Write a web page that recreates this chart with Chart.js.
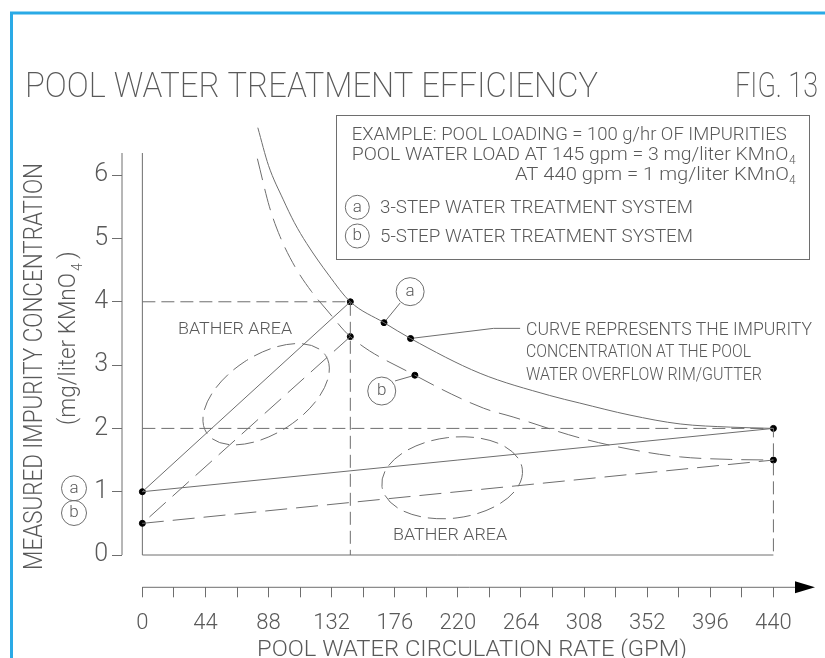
<!DOCTYPE html>
<html>
<head>
<meta http-equiv="Content-Type" content="text/html; charset=UTF-8" />
<title>Pool Water Treatment Efficiency</title>
<style>
html, body { margin: 0; padding: 0; background: #fff; }
#wrap { width: 825px; height: 658px; }
</style>
</head>
<body>
<div id="wrap"><canvas id="chart1" width="825" height="658"></canvas></div>
<script src="https://cdn.jsdelivr.net/npm/chart.js@4.4.1/dist/chart.umd.min.js"></script>
<script>
// x axis: circulation rate in gpm, minor tick every 22, label every 44
var xStep = 22;
var xLabels = [0, 44, 88, 132, 176, 220, 264, 308, 352, 396, 440];
var yStep = 1;

// curve for the 3-step system (a), solid
var curveAx = [80.5, 88, 98.3, 106, 114.6, 130, 145, 168.5, 187, 235.5, 284, 305, 340, 375, 410, 440];
var curveAy = [6.75, 6.15, 5.61, 5.25, 4.92, 4.42, 4.0, 3.67, 3.42, 2.87, 2.52, 2.40, 2.21, 2.07, 2.02, 2.0];

// curve for the 5-step system (b), dashed
var curveBx = [80.2, 88.6, 96, 106.5, 118, 128.6, 145, 190, 237.8, 258.5, 305, 340, 375, 410, 440];
var curveBy = [6.26, 5.5, 5.03, 4.55, 4.16, 3.87, 3.45, 2.84, 2.32, 2.18, 1.85, 1.67, 1.55, 1.51, 1.5];

// straight lines from the start value at 0 gpm
var lineAx = [145, 0, 440];
var lineAy = [4, 1, 2];
var lineBx = [145, 0, 440];
var lineBy = [3.45, 0.5, 1.5];

// dashed guide lines
var guide4x = [0, 145, 145];
var guide4y = [4, 4, 0];
var guide2x = [0, 440, 440];
var guide2y = [2, 2, 0];

// black dots
var dotX = [0, 0, 145, 145, 168.5, 187, 190, 440, 440];
var dotY = [1, 0.5, 4, 3.45, 3.67, 3.42, 2.84, 2, 1.5];

var GRAY = '#6e6e6e';
var TXT = '#595959';
var FONT = 'Roboto';

function pts(xs, ys) {
	var out = [];
	for (var i = 0; i < xs.length; i++) out.push({x: xs[i], y: ys[i]});
	return out;
}

// draws text squeezed/stretched to a given width (CAD style lettering)
function fitText(ctx, str, x, y, size, width, rot, weight) {
	ctx.save();
	ctx.font = (weight || 300) + ' ' + size + 'px ' + FONT;
	ctx.fillStyle = TXT;
	ctx.textAlign = 'left';
	ctx.textBaseline = 'alphabetic';
	var w = ctx.measureText(str).width;
	ctx.translate(x, y);
	if (rot) ctx.rotate(rot);
	if (width) ctx.scale(width / w, 1);
	ctx.fillText(str, 0, 0);
	ctx.restore();
}

function circleLabel(ctx, ch, cx, cy, r) {
	ctx.save();
	ctx.strokeStyle = GRAY;
	ctx.lineWidth = 1;
	ctx.beginPath();
	ctx.arc(cx, cy, r, 0, Math.PI * 2);
	ctx.stroke();
	ctx.font = '300 17px ' + FONT;
	ctx.fillStyle = TXT;
	ctx.textAlign = 'center';
	ctx.textBaseline = 'middle';
	ctx.fillText(ch, cx, cy);
	ctx.restore();
}

function seg(ctx, pts, dash) {
	ctx.save();
	ctx.strokeStyle = GRAY;
	ctx.lineWidth = 1;
	ctx.setLineDash(dash || []);
	ctx.beginPath();
	ctx.moveTo(pts[0][0], pts[0][1]);
	for (var i = 1; i < pts.length; i++) ctx.lineTo(pts[i][0], pts[i][1]);
	ctx.stroke();
	ctx.restore();
}

var drawing = {
	id: 'drawing',
	beforeDatasetsDraw: function(chart) {
		var ctx = chart.ctx, xs = chart.scales.x, ys = chart.scales.y, ca = chart.chartArea;
		var X = function(v) { return xs.getPixelForValue(v); };
		var Y = function(v) { return ys.getPixelForValue(v); };
		// y axis line and plot frame
		seg(ctx, [[ca.left, ca.top], [ca.left, Y(0)]]);
		seg(ctx, [[X(0), ca.top], [X(0), Y(0)], [X(440), Y(0)]]);
		// x axis line with arrow
		seg(ctx, [[X(0), ca.bottom], [ca.right - 18, ca.bottom]]);
		ctx.save();
		ctx.fillStyle = '#000';
		ctx.beginPath();
		ctx.moveTo(ca.right - 20, ca.bottom - 6);
		ctx.lineTo(ca.right, ca.bottom);
		ctx.lineTo(ca.right - 20, ca.bottom + 6);
		ctx.closePath();
		ctx.fill();
		ctx.restore();
		// bather area ellipses
		ctx.save();
		ctx.strokeStyle = GRAY;
		ctx.lineWidth = 1;
		ctx.setLineDash([18, 7]);
		ctx.beginPath();
		ctx.ellipse(X(86.3), Y(2.54), 71, 39, -33 * Math.PI / 180, 0, Math.PI * 2);
		ctx.stroke();
		ctx.beginPath();
		ctx.ellipse(X(216), Y(1.22), 70.7, 40.4, -7 * Math.PI / 180, 0, Math.PI * 2);
		ctx.stroke();
		ctx.restore();
		// leaders
		seg(ctx, [[X(179.7), Y(3.98)], [X(168.5), Y(3.67)]]);
		seg(ctx, [[X(176.2), Y(2.75)], [X(190), Y(2.84)]]);
		seg(ctx, [[X(187), Y(3.42)], [X(244.8), Y(3.58)], [X(263.4), Y(3.58)]]);
	},
	afterDraw: function(chart) {
		var ctx = chart.ctx, xs = chart.scales.x, ys = chart.scales.y;
		var X = function(v) { return xs.getPixelForValue(v); };
		var Y = function(v) { return ys.getPixelForValue(v); };

		// frame border
		ctx.save();
		ctx.strokeStyle = '#2aaae6';
		ctx.lineWidth = 3;
		ctx.beginPath();
		ctx.moveTo(11.5, 658);
		ctx.lineTo(11.5, 13);
		ctx.lineTo(825, 13);
		ctx.stroke();
		ctx.restore();

		// title
		fitText(ctx, 'POOL WATER TREATMENT EFFICIENCY', 25, 96.7, 35, 573, 0, 200);
		fitText(ctx, 'FIG. 13', 735, 96.7, 35, 83, 0, 200);

		// example box
		ctx.save();
		ctx.strokeStyle = GRAY;
		ctx.lineWidth = 1;
		ctx.strokeRect(336.5, 115.5, 473, 144);
		ctx.restore();
		fitText(ctx, 'EXAMPLE: POOL LOADING = 100 g/hr OF IMPURITIES', 351.7, 140, 18, 435);
		fitText(ctx, 'POOL WATER LOAD AT 145 gpm = 3 mg/liter KMnO', 351.7, 160, 18, 436.6);
		fitText(ctx, '4', 789, 164, 12);
		fitText(ctx, 'AT 440 gpm = 1 mg/liter KMnO', 515, 180, 18, 274);
		fitText(ctx, '4', 789, 184, 12);
		circleLabel(ctx, 'a', 357.3, 207.3, 12);
		fitText(ctx, '3-STEP WATER TREATMENT SYSTEM', 380, 213.3, 18, 313);
		circleLabel(ctx, 'b', 357.3, 236, 12);
		fitText(ctx, '5-STEP WATER TREATMENT SYSTEM', 380, 241.7, 18, 313);

		// y axis title
		fitText(ctx, 'MEASURED IMPURITY CONCENTRATION', 41.7, 570, 25, 407, -Math.PI / 2);
		fitText(ctx, '(mg/liter KMnO', 75, 425, 24, 152, -Math.PI / 2);
		fitText(ctx, '4', 82, 271, 14, null, -Math.PI / 2);
		fitText(ctx, ')', 75, 259, 24, null, -Math.PI / 2);
		circleLabel(ctx, 'a', 74, 488.3, 12.5);
		circleLabel(ctx, 'b', 74, 513, 12.5);

		// x axis title
		fitText(ctx, 'POOL WATER CIRCULATION RATE (GPM)', 257, 656, 22, 430);

		// plot annotations
		circleLabel(ctx, 'a', X(186.7), Y(4.16), 14);
		circleLabel(ctx, 'b', X(166.9), Y(2.59), 14);
		fitText(ctx, 'BATHER AREA', X(24.9), Y(3.49), 17, 114);
		fitText(ctx, 'BATHER AREA', X(174.8), Y(0.237), 17, 114);
		fitText(ctx, 'CURVE REPRESENTS THE IMPURITY', X(267.5), Y(3.48), 18, 286);
		fitText(ctx, 'CONCENTRATION AT THE POOL', X(267.5), Y(3.12), 18, 225);
		fitText(ctx, 'WATER OVERFLOW RIM/GUTTER', X(267.5), Y(2.76), 18, 236);
	}
};

var lineStyle = {showLine: true, pointRadius: 0, borderColor: GRAY, borderWidth: 1, clip: false, tension: 0};

new Chart(document.getElementById('chart1'), {
	type: 'scatter',
	data: {
		datasets: [
			Object.assign({}, lineStyle, {label: 'curve a', data: pts(curveAx, curveAy), cubicInterpolationMode: 'monotone'}),
			Object.assign({}, lineStyle, {label: 'curve b', data: pts(curveBx, curveBy), cubicInterpolationMode: 'monotone', borderDash: [22, 9]}),
			Object.assign({}, lineStyle, {label: 'line a', data: pts(lineAx, lineAy)}),
			Object.assign({}, lineStyle, {label: 'line b', data: pts(lineBx, lineBy), borderDash: [22, 9]}),
			Object.assign({}, lineStyle, {label: 'guide 4', data: pts(guide4x, guide4y), borderDash: [13, 6]}),
			Object.assign({}, lineStyle, {label: 'guide 2', data: pts(guide2x, guide2y), borderDash: [13, 6]}),
			{label: 'dots', data: pts(dotX, dotY), showLine: false, pointRadius: 3, pointBackgroundColor: '#000', pointBorderColor: '#000', clip: false}
		]
	},
	options: {
		responsive: false,
		animation: false,
		devicePixelRatio: 1,
		layout: {padding: {left: 0, right: 10, top: 153, bottom: 0}},
		plugins: {legend: {display: false}, tooltip: {enabled: false}, title: {display: false}},
		scales: {
			x: {
				type: 'linear', min: -14.2, max: 469,
				afterFit: function(s) { s.height = 70.7; },
				border: {display: false},
				grid: {
					drawOnChartArea: false, tickLength: 10, lineWidth: 1,
					color: function(c) { return (c.tick && c.tick.value > 440) ? 'rgba(0,0,0,0)' : GRAY; }
				},
				ticks: {
					stepSize: xStep, includeBounds: false, autoSkip: false, maxRotation: 0, padding: 13,
					color: TXT, font: {family: FONT, size: 22, weight: 300},
					callback: function(v) { return xLabels.indexOf(v) >= 0 ? String(v) : ''; }
				}
			},
			y: {
				type: 'linear', min: -0.51, max: 6.35,
				afterFit: function(s) { s.width = 122; },
				border: {display: false},
				grid: {drawOnChartArea: false, tickLength: 10, lineWidth: 1, color: GRAY},
				ticks: {
					stepSize: yStep, includeBounds: false, padding: 4,
					color: TXT, font: {family: FONT, size: 25, weight: 300}
				}
			}
		}
	},
	plugins: [drawing]
});
</script>
</body>
</html>
